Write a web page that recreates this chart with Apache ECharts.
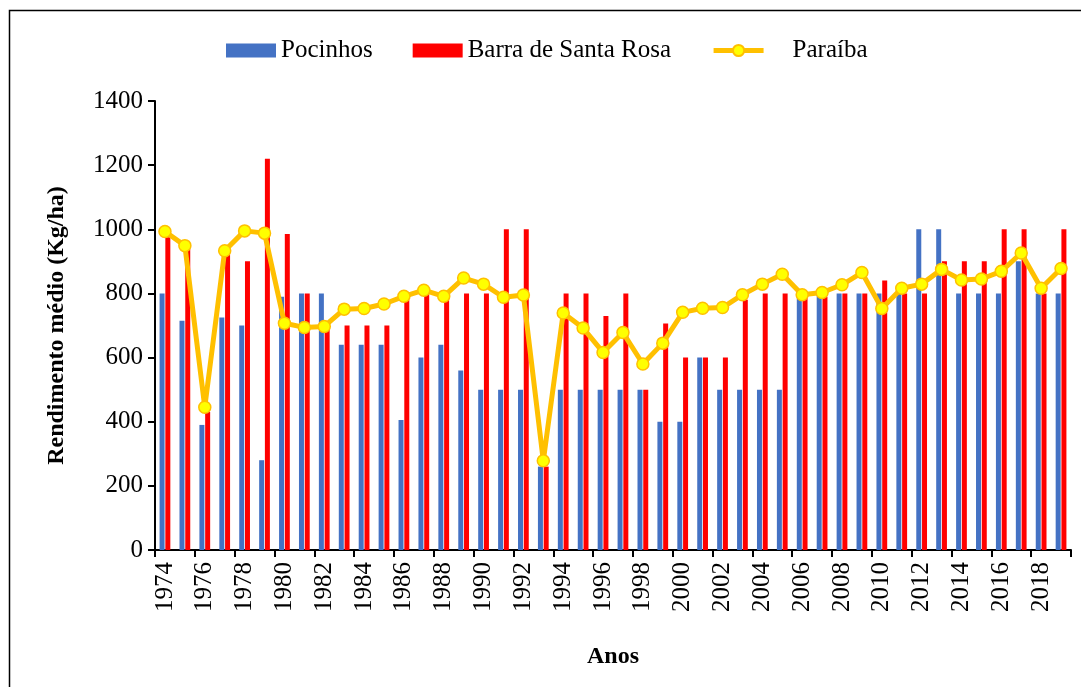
<!DOCTYPE html>
<html>
<head>
<meta charset="utf-8">
<script src="https://cdn.jsdelivr.net/npm/echarts@6/dist/echarts.min.js"></script>
<style>
  html, body { margin: 0; padding: 0; background: #fff; }
  #chart { width: 1081px; height: 687px; }
</style>
</head>
<body>
<div id="chart"></div>
<script>
var chart = echarts.init(document.getElementById('chart'), null, {renderer: 'canvas'});

// anos 1974 - 2019
var anos = [];
for (var a = 1974; a <= 2019; a++) anos.push(String(a));

var pocinhos = [800, 715, 390, 725, 700, 280, 790, 800, 800, 640, 640, 640,
                405, 600, 640, 560, 500, 500, 500, 260, 500, 500, 500, 500,
                500, 400, 400, 600, 500, 500, 500, 500, 800, 800, 800, 800,
                800, 800, 1000, 1000, 800, 800, 800, 900, 800, 800];

var barraSantaRosa = [975, 940, 430, 935, 900, 1220, 985, 800, 690, 700, 700, 700,
                      780, 800, 790, 800, 800, 1000, 1000, 260, 800, 800, 730, 800,
                      500, 706, 600, 600, 600, 780, 800, 800, 790, 790, 800, 800,
                      840, 800, 800, 900, 900, 900, 1000, 1000, 800, 1000];

var paraiba = [993, 949, 445, 933, 995, 988, 707, 694, 697, 751, 753, 767,
               791, 810, 791, 848, 829, 788, 795, 278, 739, 692, 616, 678,
               580, 645, 741, 754, 756, 796, 829, 860, 796, 803, 827, 865,
               753, 816, 829, 875, 842, 845, 869, 926, 816, 878];

var fonte = '"Liberation Serif", "Times New Roman", serif';

var option = {
    animation: false,
    textStyle: {fontFamily: fonte, color: '#000'},
    graphic: [{
        type: 'rect',
        shape: {x: 9.5, y: 10.5, width: 1100, height: 700},
        style: {fill: 'none', stroke: '#000', lineWidth: 1.5},
        silent: true
    }],
    legend: {
        top: 33,
        left: 221,
        itemWidth: 50,
        itemHeight: 14,
        itemGap: 40,
        textStyle: {fontFamily: fonte, fontSize: 25, color: '#000'},
        data: [
            {name: 'Pocinhos', icon: 'rect'},
            {name: 'Barra de Santa Rosa', icon: 'rect'},
            {name: 'Paraíba', textStyle: {padding: [0, 0, 0, 24]}}
        ],
        lineStyle: {width: 5}
    },
    grid: {left: 155, right: 10, top: 101, bottom: 137},
    xAxis: {
        type: 'category',
        data: anos,
        boundaryGap: true,
        name: 'Anos',
        nameLocation: 'middle',
        nameGap: 95,
        nameTextStyle: {fontFamily: fonte, fontSize: 24, fontWeight: 'bold', color: '#000'},
        axisLine: {lineStyle: {color: '#000', width: 2}},
        axisTick: {show: true, length: 7, lineStyle: {color: '#000', width: 2}},
        axisLabel: {
            interval: 1,
            rotate: 90,
            margin: 12,
            fontFamily: fonte,
            fontSize: 25,
            color: '#000'
        },
        splitLine: {show: false}
    },
    yAxis: {
        type: 'value',
        min: 0,
        max: 1400,
        interval: 200,
        name: 'Rendimento médio (Kg/ha)',
        nameLocation: 'middle',
        nameGap: 86,
        nameTextStyle: {fontFamily: fonte, fontSize: 24, fontWeight: 'bold', color: '#000'},
        axisLine: {show: true, lineStyle: {color: '#000', width: 2}},
        axisTick: {show: true, length: 7, lineStyle: {color: '#000', width: 2}},
        axisLabel: {
            fontFamily: fonte, fontSize: 25, color: '#000', margin: 12,
            formatter: function (v) { return String(v); }
        },
        splitLine: {show: false}
    },
    series: [
        {
            name: 'Pocinhos',
            type: 'bar',
            data: pocinhos,
            barWidth: 5,
            barGap: '15%',
            itemStyle: {color: '#4472C4'}
        },
        {
            name: 'Barra de Santa Rosa',
            type: 'bar',
            data: barraSantaRosa,
            barWidth: 5,
            itemStyle: {color: '#FF0000'}
        },
        {
            name: 'Paraíba',
            type: 'line',
            data: paraiba,
            z: 5,
            symbol: 'circle',
            symbolSize: 12,
            showAllSymbol: true,
            lineStyle: {color: '#FFC000', width: 5},
            itemStyle: {color: '#FFFF00', borderColor: '#FFC000', borderWidth: 1.5}
        }
    ]
};

chart.setOption(option);
</script>
</body>
</html>
